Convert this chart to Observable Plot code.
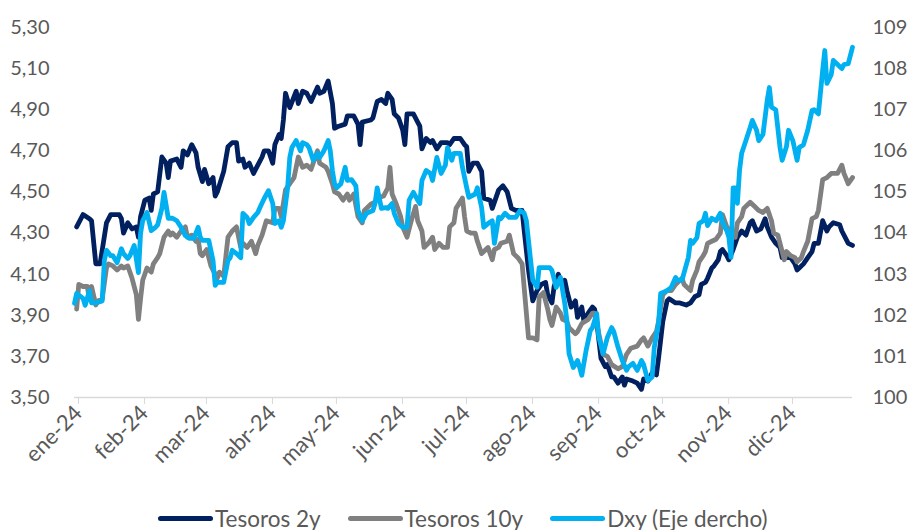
<!DOCTYPE html>
<html>
<head>
<meta charset="utf-8">
<script src="https://cdn.jsdelivr.net/npm/d3@7"></script>
<script src="https://cdn.jsdelivr.net/npm/@observablehq/plot@0.6"></script>
<style>
  html, body { margin: 0; padding: 0; background: #fff; }
  #chart { width: 912px; }
  g[aria-label="x-axis tick label"] { font-size: 22px; }
  .legend { display: flex; justify-content: flex-start; align-items: center;
    font-family: Lato, "Open Sans", sans-serif; font-size: 22.5px; color: #595959;
    margin-top: 16px; height: 24px; padding-left: 158px; }
  .item { display: flex; align-items: center; margin-right: 27px; }
  .sw { width: 55px; height: 5px; border-radius: 3px; margin-right: 2px; }
</style>
</head>
<body>
<div id="chart"></div>
<script>
const tesoros2y = [["2024-01-02",4.33],["2024-01-05",4.39],["2024-01-08",4.37],["2024-01-09",4.36],["2024-01-11",4.15],["2024-01-13",4.15],["2024-01-16",4.35],["2024-01-18",4.39],["2024-01-22",4.39],["2024-01-23",4.37],["2024-01-24",4.30],["2024-01-26",4.35],["2024-01-28",4.32],["2024-01-30",4.33],["2024-01-31",4.28],["2024-02-01",4.38],["2024-02-03",4.46],["2024-02-05",4.47],["2024-02-06",4.41],["2024-02-07",4.49],["2024-02-09",4.50],["2024-02-11",4.67],["2024-02-13",4.64],["2024-02-14",4.57],["2024-02-15",4.65],["2024-02-18",4.66],["2024-02-20",4.62],["2024-02-21",4.70],["2024-02-23",4.68],["2024-02-25",4.73],["2024-02-27",4.69],["2024-02-28",4.62],["2024-03-01",4.55],["2024-03-02",4.61],["2024-03-04",4.54],["2024-03-06",4.57],["2024-03-07",4.48],["2024-03-08",4.50],["2024-03-11",4.60],["2024-03-13",4.72],["2024-03-15",4.74],["2024-03-17",4.74],["2024-03-18",4.65],["2024-03-20",4.66],["2024-03-21",4.62],["2024-03-23",4.64],["2024-03-25",4.59],["2024-03-27",4.63],["2024-03-29",4.67],["2024-03-30",4.70],["2024-04-01",4.70],["2024-04-03",4.64],["2024-04-04",4.73],["2024-04-06",4.78],["2024-04-07",4.76],["2024-04-08",4.85],["2024-04-09",4.98],["2024-04-11",4.91],["2024-04-14",4.99],["2024-04-15",4.93],["2024-04-17",4.99],["2024-04-19",4.98],["2024-04-21",4.94],["2024-04-24",5.01],["2024-04-25",4.98],["2024-04-27",4.99],["2024-04-29",5.04],["2024-05-01",4.93],["2024-05-02",4.81],["2024-05-04",4.82],["2024-05-07",4.83],["2024-05-08",4.87],["2024-05-11",4.87],["2024-05-13",4.83],["2024-05-14",4.73],["2024-05-15",4.84],["2024-05-19",4.85],["2024-05-20",4.86],["2024-05-22",4.94],["2024-05-24",4.95],["2024-05-26",4.93],["2024-05-27",4.98],["2024-05-29",4.95],["2024-05-30",4.88],["2024-06-01",4.86],["2024-06-03",4.80],["2024-06-04",4.73],["2024-06-05",4.88],["2024-06-08",4.88],["2024-06-10",4.84],["2024-06-11",4.82],["2024-06-12",4.71],["2024-06-14",4.76],["2024-06-16",4.74],["2024-06-17",4.75],["2024-06-19",4.71],["2024-06-21",4.74],["2024-06-24",4.74],["2024-06-25",4.73],["2024-06-27",4.76],["2024-06-30",4.76],["2024-07-02",4.73],["2024-07-03",4.72],["2024-07-04",4.60],["2024-07-06",4.64],["2024-07-08",4.64],["2024-07-10",4.60],["2024-07-11",4.47],["2024-07-14",4.46],["2024-07-15",4.42],["2024-07-18",4.51],["2024-07-20",4.53],["2024-07-22",4.50],["2024-07-24",4.42],["2024-07-26",4.41],["2024-07-29",4.41],["2024-07-30",4.31],["2024-08-01",4.12],["2024-08-03",3.97],["2024-08-05",4.02],["2024-08-07",4.05],["2024-08-09",4.06],["2024-08-10",4.00],["2024-08-12",3.96],["2024-08-13",4.04],["2024-08-15",4.10],["2024-08-17",4.04],["2024-08-18",4.07],["2024-08-19",4.02],["2024-08-21",3.94],["2024-08-23",3.97],["2024-08-24",3.89],["2024-08-26",3.94],["2024-08-27",3.87],["2024-08-29",3.91],["2024-08-31",3.94],["2024-09-01",3.93],["2024-09-02",3.87],["2024-09-04",3.69],["2024-09-06",3.65],["2024-09-07",3.66],["2024-09-09",3.60],["2024-09-10",3.60],["2024-09-12",3.57],["2024-09-14",3.60],["2024-09-15",3.56],["2024-09-16",3.59],["2024-09-19",3.58],["2024-09-21",3.57],["2024-09-23",3.54],["2024-09-24",3.59],["2024-09-26",3.58],["2024-09-28",3.62],["2024-09-30",3.61],["2024-10-01",3.69],["2024-10-03",3.87],["2024-10-05",3.97],["2024-10-06",3.98],["2024-10-09",3.96],["2024-10-11",3.96],["2024-10-14",3.95],["2024-10-16",3.96],["2024-10-18",3.99],["2024-10-20",4.00],["2024-10-21",4.05],["2024-10-23",4.06],["2024-10-24",4.08],["2024-10-26",4.13],["2024-10-27",4.14],["2024-10-29",4.17],["2024-10-30",4.21],["2024-10-31",4.22],["2024-11-02",4.19],["2024-11-03",4.17],["2024-11-05",4.22],["2024-11-07",4.28],["2024-11-09",4.31],["2024-11-11",4.29],["2024-11-13",4.35],["2024-11-14",4.36],["2024-11-16",4.31],["2024-11-18",4.32],["2024-11-20",4.37],["2024-11-21",4.33],["2024-11-23",4.28],["2024-11-25",4.25],["2024-11-27",4.23],["2024-11-28",4.18],["2024-11-30",4.18],["2024-12-02",4.18],["2024-12-04",4.15],["2024-12-05",4.12],["2024-12-06",4.13],["2024-12-08",4.15],["2024-12-10",4.18],["2024-12-12",4.21],["2024-12-13",4.25],["2024-12-15",4.25],["2024-12-17",4.36],["2024-12-19",4.31],["2024-12-20",4.33],["2024-12-22",4.35],["2024-12-25",4.34],["2024-12-26",4.31],["2024-12-29",4.25],["2024-12-31",4.24]];

const tesoros10y = [["2024-01-02",3.93],["2024-01-03",4.05],["2024-01-05",4.04],["2024-01-07",4.04],["2024-01-08",3.98],["2024-01-09",4.04],["2024-01-11",3.95],["2024-01-12",3.97],["2024-01-14",3.98],["2024-01-16",4.13],["2024-01-17",4.15],["2024-01-19",4.14],["2024-01-21",4.12],["2024-01-23",4.14],["2024-01-24",4.13],["2024-01-26",4.14],["2024-01-28",4.08],["2024-01-30",4.00],["2024-01-31",3.88],["2024-02-01",3.98],["2024-02-02",4.07],["2024-02-04",4.13],["2024-02-06",4.11],["2024-02-07",4.15],["2024-02-09",4.18],["2024-02-10",4.20],["2024-02-12",4.28],["2024-02-14",4.31],["2024-02-15",4.29],["2024-02-16",4.30],["2024-02-18",4.28],["2024-02-20",4.31],["2024-02-22",4.33],["2024-02-23",4.28],["2024-02-25",4.29],["2024-02-27",4.26],["2024-02-28",4.27],["2024-02-29",4.20],["2024-03-01",4.19],["2024-03-03",4.22],["2024-03-05",4.14],["2024-03-06",4.12],["2024-03-08",4.08],["2024-03-09",4.11],["2024-03-11",4.09],["2024-03-13",4.28],["2024-03-15",4.31],["2024-03-17",4.33],["2024-03-19",4.23],["2024-03-20",4.25],["2024-03-22",4.23],["2024-03-24",4.26],["2024-03-26",4.20],["2024-03-27",4.24],["2024-03-29",4.29],["2024-03-31",4.36],["2024-04-03",4.35],["2024-04-04",4.42],["2024-04-06",4.42],["2024-04-07",4.38],["2024-04-09",4.51],["2024-04-11",4.54],["2024-04-13",4.57],["2024-04-15",4.67],["2024-04-17",4.62],["2024-04-19",4.63],["2024-04-21",4.61],["2024-04-24",4.70],["2024-04-25",4.64],["2024-04-28",4.62],["2024-04-29",4.60],["2024-05-01",4.54],["2024-05-02",4.50],["2024-05-04",4.49],["2024-05-06",4.46],["2024-05-08",4.49],["2024-05-09",4.46],["2024-05-11",4.49],["2024-05-13",4.38],["2024-05-15",4.35],["2024-05-16",4.41],["2024-05-19",4.44],["2024-05-21",4.45],["2024-05-22",4.47],["2024-05-25",4.48],["2024-05-27",4.52],["2024-05-28",4.62],["2024-05-29",4.49],["2024-05-31",4.44],["2024-06-02",4.38],["2024-06-03",4.33],["2024-06-05",4.28],["2024-06-07",4.36],["2024-06-09",4.43],["2024-06-10",4.36],["2024-06-12",4.31],["2024-06-13",4.23],["2024-06-15",4.25],["2024-06-17",4.28],["2024-06-18",4.22],["2024-06-20",4.25],["2024-06-22",4.23],["2024-06-24",4.23],["2024-06-25",4.33],["2024-06-27",4.35],["2024-06-28",4.42],["2024-07-01",4.47],["2024-07-02",4.38],["2024-07-03",4.31],["2024-07-05",4.30],["2024-07-07",4.30],["2024-07-08",4.26],["2024-07-10",4.20],["2024-07-12",4.22],["2024-07-13",4.23],["2024-07-15",4.17],["2024-07-16",4.22],["2024-07-18",4.23],["2024-07-19",4.25],["2024-07-22",4.26],["2024-07-23",4.29],["2024-07-25",4.20],["2024-07-27",4.18],["2024-07-29",4.15],["2024-07-30",4.03],["2024-08-01",3.79],["2024-08-03",3.79],["2024-08-05",3.78],["2024-08-06",3.99],["2024-08-08",4.01],["2024-08-10",3.93],["2024-08-11",3.88],["2024-08-12",3.85],["2024-08-14",3.94],["2024-08-16",3.91],["2024-08-17",3.88],["2024-08-19",3.87],["2024-08-20",3.84],["2024-08-23",3.81],["2024-08-24",3.82],["2024-08-26",3.86],["2024-08-29",3.88],["2024-08-31",3.91],["2024-09-01",3.91],["2024-09-02",3.86],["2024-09-05",3.71],["2024-09-07",3.70],["2024-09-09",3.66],["2024-09-12",3.64],["2024-09-14",3.65],["2024-09-15",3.68],["2024-09-16",3.71],["2024-09-18",3.74],["2024-09-21",3.75],["2024-09-23",3.78],["2024-09-24",3.79],["2024-09-26",3.75],["2024-09-28",3.79],["2024-09-30",3.82],["2024-10-01",3.87],["2024-10-03",4.00],["2024-10-05",4.02],["2024-10-07",4.02],["2024-10-09",4.05],["2024-10-12",4.08],["2024-10-13",4.05],["2024-10-16",4.02],["2024-10-17",4.07],["2024-10-19",4.12],["2024-10-20",4.16],["2024-10-22",4.19],["2024-10-23",4.21],["2024-10-24",4.25],["2024-10-26",4.26],["2024-10-28",4.27],["2024-10-30",4.30],["2024-10-31",4.39],["2024-11-02",4.33],["2024-11-04",4.31],["2024-11-06",4.28],["2024-11-07",4.35],["2024-11-09",4.38],["2024-11-10",4.42],["2024-11-13",4.45],["2024-11-15",4.43],["2024-11-17",4.41],["2024-11-19",4.40],["2024-11-21",4.42],["2024-11-23",4.36],["2024-11-24",4.30],["2024-11-26",4.29],["2024-11-28",4.21],["2024-11-29",4.17],["2024-11-30",4.21],["2024-12-02",4.19],["2024-12-04",4.18],["2024-12-05",4.16],["2024-12-07",4.18],["2024-12-08",4.21],["2024-12-10",4.26],["2024-12-12",4.37],["2024-12-14",4.38],["2024-12-15",4.41],["2024-12-17",4.56],["2024-12-19",4.57],["2024-12-21",4.59],["2024-12-24",4.59],["2024-12-26",4.63],["2024-12-27",4.59],["2024-12-29",4.54],["2024-12-31",4.57]];

const dxy = [["2024-01-01",102.29],["2024-01-02",102.53],["2024-01-05",102.41],["2024-01-06",102.24],["2024-01-08",102.6],["2024-01-09",102.3],["2024-01-11",102.3],["2024-01-14",102.35],["2024-01-15",103.33],["2024-01-16",103.58],["2024-01-18",103.45],["2024-01-19",103.45],["2024-01-21",103.28],["2024-01-23",103.62],["2024-01-24",103.5],["2024-01-26",103.38],["2024-01-27",103.45],["2024-01-29",103.7],["2024-01-31",103.04],["2024-02-01",103.99],["2024-02-02",104.3],["2024-02-04",104.5],["2024-02-06",104.06],["2024-02-08",104.14],["2024-02-09",104.2],["2024-02-11",104.6],["2024-02-12",104.99],["2024-02-14",104.36],["2024-02-16",104.36],["2024-02-18",104.3],["2024-02-20",104.14],["2024-02-22",103.94],["2024-02-24",103.87],["2024-02-26",103.87],["2024-02-28",104.14],["2024-02-29",103.9],["2024-03-01",103.82],["2024-03-04",103.82],["2024-03-06",103.33],["2024-03-07",102.73],["2024-03-08",102.8],["2024-03-11",102.8],["2024-03-13",103.33],["2024-03-14",103.4],["2024-03-15",103.58],["2024-03-17",103.5],["2024-03-19",103.4],["2024-03-20",104.48],["2024-03-22",104.38],["2024-03-23",104.23],["2024-03-25",104.38],["2024-03-27",104.5],["2024-03-28",104.62],["2024-03-30",104.84],["2024-04-01",105.03],["2024-04-03",104.72],["2024-04-04",104.23],["2024-04-06",104.3],["2024-04-07",104.14],["2024-04-08",104.3],["2024-04-10",105.11],["2024-04-11",105.84],["2024-04-12",106.08],["2024-04-14",106.25],["2024-04-16",106.0],["2024-04-17",106.2],["2024-04-19",106.15],["2024-04-20",106.08],["2024-04-22",105.77],["2024-04-24",105.94],["2024-04-25",105.84],["2024-04-27",106.0],["2024-04-29",106.25],["2024-04-30",106.0],["2024-05-01",105.52],["2024-05-02",105.2],["2024-05-03",105.1],["2024-05-05",105.2],["2024-05-07",105.6],["2024-05-08",105.28],["2024-05-10",105.3],["2024-05-12",105.15],["2024-05-13",104.55],["2024-05-15",104.3],["2024-05-17",104.48],["2024-05-20",104.55],["2024-05-21",104.72],["2024-05-22",105.1],["2024-05-24",104.6],["2024-05-26",104.62],["2024-05-27",104.6],["2024-05-29",104.72],["2024-05-30",104.48],["2024-06-01",104.23],["2024-06-03",104.14],["2024-06-05",104.14],["2024-06-06",104.8],["2024-06-08",104.99],["2024-06-10",104.8],["2024-06-11",104.72],["2024-06-12",105.28],["2024-06-14",105.52],["2024-06-16",105.45],["2024-06-17",105.28],["2024-06-19",105.84],["2024-06-21",105.45],["2024-06-23",105.65],["2024-06-24",106.08],["2024-06-26",105.77],["2024-06-27",105.94],["2024-06-30",105.94],["2024-07-01",105.6],["2024-07-03",105.1],["2024-07-04",104.87],["2024-07-07",104.95],["2024-07-08",105.1],["2024-07-10",104.62],["2024-07-11",104.14],["2024-07-13",104.23],["2024-07-15",104.3],["2024-07-16",103.75],["2024-07-18",104.38],["2024-07-19",104.35],["2024-07-21",104.48],["2024-07-23",104.38],["2024-07-26",104.38],["2024-07-28",104.55],["2024-07-30",104.48],["2024-07-31",104.3],["2024-08-02",103.33],["2024-08-03",102.85],["2024-08-05",102.68],["2024-08-06",103.16],["2024-08-09",103.16],["2024-08-11",103.16],["2024-08-12",103.09],["2024-08-14",102.68],["2024-08-16",102.92],["2024-08-18",102.29],["2024-08-19",101.87],["2024-08-20",101.07],["2024-08-22",100.73],["2024-08-24",100.9],["2024-08-25",100.73],["2024-08-26",100.54],["2024-08-28",101.14],["2024-08-30",101.63],["2024-08-31",101.7],["2024-09-02",102.04],["2024-09-03",101.46],["2024-09-05",101.07],["2024-09-07",101.46],["2024-09-09",101.7],["2024-09-10",101.6],["2024-09-12",101.22],["2024-09-14",100.9],["2024-09-16",100.66],["2024-09-17",100.75],["2024-09-19",100.83],["2024-09-21",100.66],["2024-09-23",100.9],["2024-09-24",100.8],["2024-09-26",100.41],["2024-09-28",100.5],["2024-09-29",101.22],["2024-10-01",101.8],["2024-10-02",102.53],["2024-10-05",102.6],["2024-10-07",102.68],["2024-10-09",102.92],["2024-10-10",102.85],["2024-10-12",102.85],["2024-10-13",103.04],["2024-10-15",103.41],["2024-10-16",103.82],["2024-10-17",103.75],["2024-10-19",103.89],["2024-10-20",104.23],["2024-10-22",104.3],["2024-10-23",104.48],["2024-10-24",104.18],["2024-10-26",104.36],["2024-10-28",104.3],["2024-10-30",104.48],["2024-10-31",104.26],["2024-11-02",104.06],["2024-11-03",103.9],["2024-11-04",103.41],["2024-11-05",105.1],["2024-11-06",105.1],["2024-11-07",104.72],["2024-11-08",105.52],["2024-11-09",105.94],["2024-11-11",106.25],["2024-11-13",106.57],["2024-11-14",106.74],["2024-11-16",106.5],["2024-11-17",106.25],["2024-11-19",106.4],["2024-11-21",107.23],["2024-11-22",107.54],["2024-11-23",107.06],["2024-11-25",107.0],["2024-11-27",106.08],["2024-11-28",105.77],["2024-11-30",106.1],["2024-12-01",106.5],["2024-12-03",106.25],["2024-12-05",105.77],["2024-12-06",106.08],["2024-12-08",106.15],["2024-12-10",106.5],["2024-12-12",106.98],["2024-12-13",107.0],["2024-12-15",106.9],["2024-12-17",107.96],["2024-12-18",108.44],["2024-12-19",107.64],["2024-12-21",107.85],["2024-12-22",108.2],["2024-12-24",108.1],["2024-12-26",108.0],["2024-12-27",108.1],["2024-12-29",108.12],["2024-12-31",108.52]];

const leftTicks = [3.5, 3.7, 3.9, 4.1, 4.3, 4.5, 4.7, 4.9, 5.1, 5.3];
const rightTicks = [100, 101, 102, 103, 104, 105, 106, 107, 108, 109];
const monthTicks = ["2024-01-01","2024-02-01","2024-03-01","2024-04-01","2024-05-01","2024-06-01","2024-07-01","2024-08-01","2024-09-01","2024-10-01","2024-11-01","2024-12-01"];
const monthLabels = ["ene-24","feb-24","mar-24","abr-24","may-24","jun-24","jul-24","ago-24","sep-24","oct-24","nov-24","dic-24"];
const seriesNames = ["Tesoros 2y", "Tesoros 10y", "Dxy (Eje dercho)"];
const seriesColors = ["#002060", "#808080", "#00b0f0"];

// right axis (100–109) mapped onto the left scale (3.50–5.30)
const toLeft = v => 3.5 + (v - 100) * 0.2;
const fromLeft = v => 100 + (v - 3.5) * 5;

const rows = (arr, f = v => v) => arr.map(([d, v]) => ({date: new Date(d), value: f(v)}));
const d2y = rows(tesoros2y), d10y = rows(tesoros10y), dDxy = rows(dxy, toLeft);

const lineOpts = (color) => ({x: "date", y: "value", stroke: color, strokeWidth: 4.8, strokeLinejoin: "round", strokeLinecap: "round"});

const chart = Plot.plot({
  width: 912,
  height: 490,
  marginLeft: 74,
  marginRight: 60,
  marginTop: 27,
  marginBottom: 93,
  style: {fontFamily: "Lato, 'Open Sans', sans-serif", fontSize: "20px", color: "#595959", background: "#fff"},
  x: {type: "utc", domain: [new Date("2024-01-01"), new Date("2024-12-31")]},
  y: {domain: [3.5, 5.3]},
  marks: [
    Plot.ruleY([3.5], {stroke: "#d9d9d9", strokeWidth: 1.5}),
    Plot.axisX(monthTicks.map(d => new Date(d)), {
      tickRotate: -45, tickSize: 7, tickPadding: 5, stroke: "#d9d9d9",
      tickFormat: d => monthLabels[d.getUTCMonth()], label: null, fill: "#595959", dx: 4
    }),
    Plot.axisY(leftTicks, {anchor: "left", tickSize: 0, tickPadding: 25, tickFormat: d => d.toFixed(2).replace(".", ","), label: null, fill: "#595959"}),
    Plot.axisY(rightTicks.map(toLeft), {anchor: "right", tickSize: 0, tickPadding: 20, tickFormat: d => String(Math.round(fromLeft(d))), label: null, fill: "#595959", textAnchor: "start"}),
    Plot.line(d2y, lineOpts(seriesColors[0])),
    Plot.line(d10y, lineOpts(seriesColors[1])),
    Plot.line(dDxy, lineOpts(seriesColors[2]))
  ]
});
document.getElementById("chart").appendChild(chart);

const legend = document.createElement("div");
legend.className = "legend";
seriesNames.forEach((name, i) => {
  const item = document.createElement("div");
  item.className = "item";
  const sw = document.createElement("span");
  sw.className = "sw";
  sw.style.background = seriesColors[i];
  const label = document.createElement("span");
  label.textContent = name;
  item.appendChild(sw);
  item.appendChild(label);
  legend.appendChild(item);
});
document.getElementById("chart").appendChild(legend);
</script>
</body>
</html>
